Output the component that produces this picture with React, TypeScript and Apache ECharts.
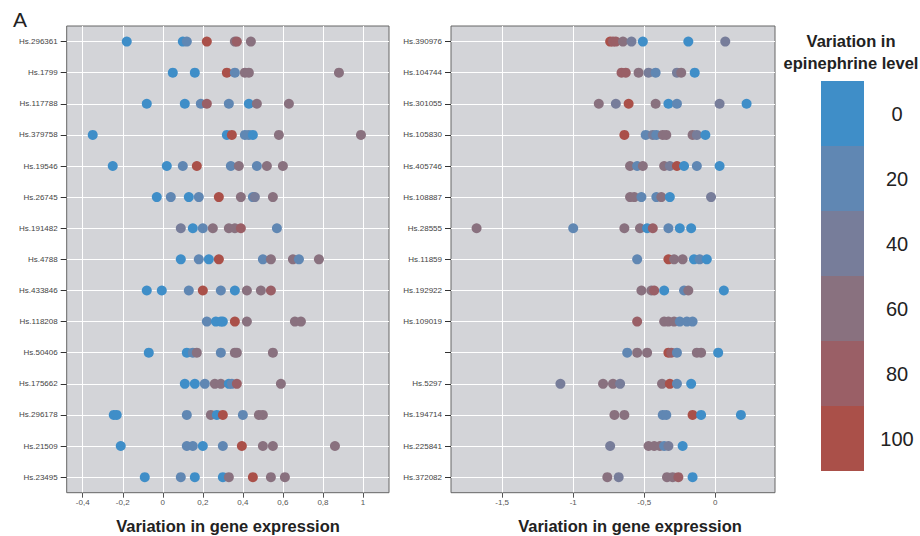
import React, { useEffect, useRef } from 'react';
import * as echarts from 'echarts';

const FONT = '"Liberation Sans", Arial, Helvetica, sans-serif';

const leftGenes = [
  'Hs.296361', 'Hs.1799', 'Hs.117788', 'Hs.379758', 'Hs.19546', 'Hs.26745', 'Hs.191482', 'Hs.4788',
  'Hs.433846', 'Hs.118208', 'Hs.50406', 'Hs.175662', 'Hs.296178', 'Hs.21509', 'Hs.23495',
];
const leftX: number[][] = [
  [-0.18, 0.1, 0.12, 0.22, 0.36, 0.37, 0.44],
  [0.05, 0.16, 0.32, 0.36, 0.41, 0.43, 0.88],
  [-0.08, 0.11, 0.19, 0.22, 0.33, 0.43, 0.47, 0.63],
  [-0.35, 0.32, 0.345, 0.41, 0.43, 0.45, 0.58, 0.99],
  [-0.25, 0.02, 0.1, 0.17, 0.34, 0.38, 0.47, 0.52, 0.6],
  [-0.03, 0.04, 0.13, 0.18, 0.28, 0.39, 0.45, 0.46, 0.55],
  [0.09, 0.15, 0.2, 0.25, 0.33, 0.36, 0.39, 0.57],
  [0.09, 0.18, 0.23, 0.28, 0.5, 0.54, 0.65, 0.68, 0.78],
  [-0.08, -0.005, 0.13, 0.2, 0.29, 0.36, 0.42, 0.49, 0.54],
  [0.22, 0.265, 0.29, 0.3, 0.36, 0.42, 0.66, 0.69],
  [-0.07, 0.12, 0.15, 0.17, 0.29, 0.36, 0.37, 0.55],
  [0.11, 0.16, 0.21, 0.26, 0.29, 0.33, 0.345, 0.37, 0.59],
  [-0.245, -0.23, 0.12, 0.24, 0.27, 0.3, 0.4, 0.48, 0.5],
  [-0.21, 0.12, 0.15, 0.2, 0.3, 0.395, 0.5, 0.55, 0.86],
  [-0.09, 0.09, 0.16, 0.3, 0.33, 0.45, 0.54, 0.61],
];
const leftLevel: number[][] = [
  [0, 0, 20, 100, 60, 80, 60],
  [0, 0, 100, 20, 60, 60, 60],
  [0, 0, 20, 80, 20, 0, 60, 60],
  [0, 0, 100, 20, 20, 0, 60, 60],
  [0, 0, 20, 100, 20, 60, 20, 60, 60],
  [0, 20, 0, 20, 100, 60, 20, 40, 60],
  [40, 0, 20, 60, 60, 60, 80, 20],
  [0, 20, 0, 100, 20, 60, 60, 20, 60],
  [0, 0, 20, 100, 20, 0, 60, 60, 80],
  [20, 0, 0, 0, 100, 60, 60, 60],
  [0, 0, 20, 60, 20, 60, 60, 60],
  [0, 0, 20, 60, 60, 0, 20, 80, 60],
  [0, 0, 20, 60, 0, 100, 20, 60, 60],
  [0, 20, 20, 0, 20, 100, 60, 60, 60],
  [0, 20, 0, 0, 60, 100, 60, 60],
];

const rightGenes = [
  'Hs.390976', 'Hs.104744', 'Hs.301055', 'Hs.105830', 'Hs.405746', 'Hs.108887', 'Hs.28555', 'Hs.11859',
  'Hs.192922', 'Hs.109019', '', 'Hs.5297', 'Hs.194714', 'Hs.225841', 'Hs.372082',
];
const rightX: number[][] = [
  [-0.74, -0.72, -0.7, -0.65, -0.59, -0.51, -0.19, 0.07],
  [-0.66, -0.63, -0.54, -0.47, -0.42, -0.27, -0.24, -0.145],
  [-0.82, -0.7, -0.61, -0.42, -0.33, -0.27, 0.03, 0.22],
  [-0.64, -0.49, -0.44, -0.415, -0.37, -0.345, -0.16, -0.13, -0.07],
  [-0.6, -0.55, -0.51, -0.36, -0.32, -0.27, -0.22, -0.13, 0.03],
  [-0.6, -0.57, -0.52, -0.415, -0.38, -0.32, -0.03],
  [-1.68, -1.0, -0.64, -0.53, -0.48, -0.44, -0.33, -0.25, -0.17],
  [-0.55, -0.33, -0.29, -0.23, -0.15, -0.11, -0.06],
  [-0.52, -0.45, -0.43, -0.36, -0.22, -0.19, 0.06],
  [-0.55, -0.36, -0.33, -0.29, -0.25, -0.2, -0.16],
  [-0.62, -0.55, -0.48, -0.33, -0.31, -0.27, -0.13, -0.1, 0.02],
  [-1.09, -0.79, -0.72, -0.67, -0.375, -0.32, -0.27, -0.17],
  [-0.71, -0.64, -0.37, -0.345, -0.16, -0.1, 0.18],
  [-0.74, -0.47, -0.43, -0.39, -0.36, -0.33, -0.23],
  [-0.76, -0.68, -0.34, -0.3, -0.26, -0.16],
];
const rightLevel: number[][] = [
  [100, 80, 80, 60, 40, 0, 0, 40],
  [80, 80, 60, 40, 20, 40, 60, 0],
  [60, 40, 100, 60, 0, 20, 40, 0],
  [100, 20, 40, 20, 60, 60, 60, 40, 0],
  [60, 20, 60, 60, 40, 100, 0, 20, 0],
  [60, 60, 20, 20, 60, 0, 40],
  [60, 20, 60, 60, 0, 80, 20, 0, 0],
  [20, 100, 60, 60, 0, 20, 0],
  [60, 60, 80, 0, 20, 60, 0],
  [80, 60, 60, 60, 20, 20, 20],
  [20, 60, 60, 100, 80, 20, 60, 60, 0],
  [40, 60, 60, 40, 60, 100, 20, 0],
  [60, 60, 20, 20, 100, 0, 0],
  [40, 60, 60, 60, 20, 40, 0],
  [60, 40, 60, 60, 80, 0],
];

const leftTicks = [-0.4, -0.2, 0, 0.2, 0.4, 0.6, 0.8, 1];
const rightTicks = [-1.5, -1, -0.5, 0];
const levelSteps = [0, 20, 40, 60, 80, 100];
const levelColors = ['#3f8ec8', '#6087b3', '#777d9a', '#89717f', '#9a5f66', '#aa5049'];

function buildPoints(xs: number[][], ls: number[][]) {
  const out: number[][] = [];
  xs.forEach((row, i) => row.forEach((x, j) => out.push([x, i, ls[i][j]])));
  return out;
}

const fmtX = (v: number) => String(Math.round(v * 10) / 10).replace('.', ',');

function makeXAxis(gridIndex: number, min: number, max: number, ticks: number[]) {
  return {
    gridIndex, type: 'value', min, max, position: 'bottom',
    axisLine: { show: false, onZero: false },
    axisTick: { show: true, customValues: ticks, length: 5, lineStyle: { color: '#555' } },
    axisLabel: { customValues: ticks, formatter: fmtX, fontSize: 8, color: '#555', margin: 6, fontFamily: FONT },
    splitLine: { show: true, lineStyle: { color: '#ffffff', width: 1 } },
  };
}

function makeYAxis(gridIndex: number, genes: string[]) {
  const idx = genes.map((_, i) => i);
  return {
    gridIndex, type: 'value', inverse: true, min: -0.5, max: genes.length - 0.5, position: 'left',
    axisLine: { show: false, onZero: false },
    axisTick: { show: true, customValues: idx, length: 6, lineStyle: { color: '#333' } },
    axisLabel: {
      customValues: idx, formatter: (v: number) => genes[Math.round(v)] ?? '',
      fontSize: 8, color: '#444', margin: 9, fontFamily: FONT,
    },
    splitLine: { show: true, lineStyle: { color: '#ffffff', width: 1 } },
  };
}

export default function App() {
  const ref = useRef<HTMLDivElement>(null);
  useEffect(() => {
    if (!ref.current) return;
    const chart = echarts.init(ref.current, undefined, { renderer: 'svg' });
    const gridStyle = { show: true, backgroundColor: '#d3d4d8', borderColor: '#666', borderWidth: 1 };
    chart.setOption({
      animation: false,
      textStyle: { fontFamily: FONT },
      grid: [
        { left: 66.7, top: 26, width: 322.3, height: 466.7, ...gridStyle },
        { left: 451, top: 26, width: 324, height: 466.7, ...gridStyle },
      ],
      xAxis: [makeXAxis(0, -0.48, 1.13, leftTicks), makeXAxis(1, -1.86, 0.42, rightTicks)],
      yAxis: [makeYAxis(0, leftGenes), makeYAxis(1, rightGenes)],
      visualMap: {
        type: 'piecewise', dimension: 2, seriesIndex: [0, 1],
        pieces: levelSteps.map((v, i) => ({ value: v, color: levelColors[i] })),
        orient: 'vertical', inverse: true, left: 821, top: 81, padding: 0,
        itemWidth: 43, itemHeight: 65, itemGap: 0, itemSymbol: 'rect',
        showLabel: false, selectedMode: false, hoverLink: false,
      },
      series: [
        { type: 'scatter', xAxisIndex: 0, yAxisIndex: 0, symbolSize: 10, data: buildPoints(leftX, leftLevel), itemStyle: { opacity: 1 } },
        { type: 'scatter', xAxisIndex: 1, yAxisIndex: 1, symbolSize: 10, data: buildPoints(rightX, rightLevel), itemStyle: { opacity: 1 } },
      ],
      graphic: [
        { type: 'text', left: 13, top: 9, style: { text: 'A', fontSize: 21, fill: '#222', fontFamily: FONT } },
        { type: 'text', x: 228, y: 526, style: { text: 'Variation in gene expression', fontSize: 16.5, fontWeight: 'bold', fill: '#222', align: 'center', verticalAlign: 'middle', fontFamily: FONT } },
        { type: 'text', x: 630, y: 526, style: { text: 'Variation in gene expression', fontSize: 16.5, fontWeight: 'bold', fill: '#222', align: 'center', verticalAlign: 'middle', fontFamily: FONT } },
        { type: 'text', x: 851, y: 41, style: { text: 'Variation in', fontSize: 16.5, fontWeight: 'bold', fill: '#222', align: 'center', verticalAlign: 'middle', fontFamily: FONT } },
        { type: 'text', x: 851, y: 62.5, style: { text: 'epinephrine level', fontSize: 16.5, fontWeight: 'bold', fill: '#222', align: 'center', verticalAlign: 'middle', fontFamily: FONT } },
        ...levelSteps.map((v, i) => ({
          type: 'text', x: 897, y: 113.5 + i * 65,
          style: { text: String(v), fontSize: 20, fill: '#222', align: 'center', verticalAlign: 'middle', fontFamily: FONT },
        })),
      ],
    });
    return () => chart.dispose();
  }, []);
  return <div ref={ref} style={{ position: 'absolute', left: 0, top: 0, width: 920, height: 536 }} />;
}
